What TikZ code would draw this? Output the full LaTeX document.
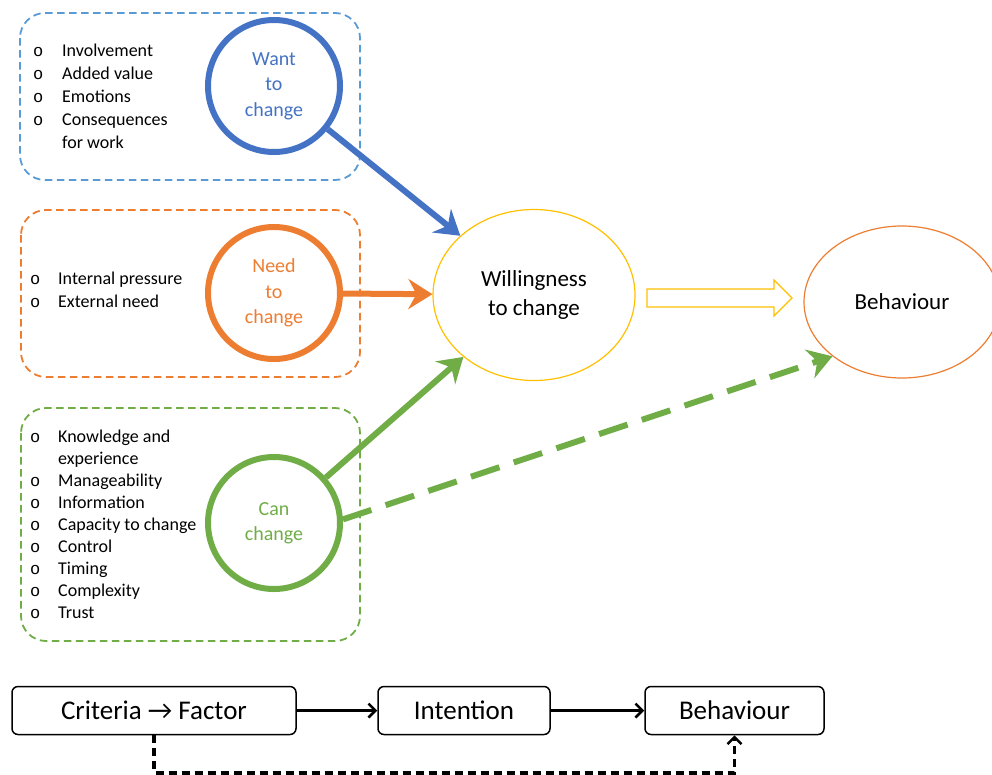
\documentclass[tikz,border=0pt]{standalone}
\usepackage{fontspec}
\setmainfont{Carlito}
\newfontfamily\bulletfont{Liberation Mono}
\usetikzlibrary{arrows.meta,shapes.geometric,calc}

\definecolor{wantblue}{HTML}{4472C4}
\definecolor{wantbox}{HTML}{5B9BD5}
\definecolor{needorange}{HTML}{ED7D31}
\definecolor{cangreen}{HTML}{70AD47}
\definecolor{willyellow}{HTML}{FFC000}

% hollow list bullet
\newcommand{\bul}{{\fontsize{17}{17}\bulletfont o}}

\tikzset{
  groupbox/.style={line width=1.8pt, dash pattern=on 7.5pt off 4.5pt, rounded corners=25pt},
  factor/.style={circle, draw, line width=6pt, minimum size=132pt, inner sep=0pt,
    align=center, font=\fontsize{20}{25.5}\selectfont},
  bigarrow/.style={line width=6pt, -{Stealth[length=24pt, width=30pt, inset=8pt]}},
  stage/.style={ellipse, draw, line width=1.2pt, inner sep=0pt, align=center,
    font=\fontsize{23}{29}\selectfont},
  itemlist/.style={anchor=north west, inner sep=0pt, align=left},
  flowbox/.style={draw, rounded corners=6pt, line width=1.5pt, minimum height=48pt,
    inner sep=0pt, font=\fontsize{27}{30}\selectfont},
  flowarrow/.style={line width=2.5pt, -{Straight Barb[length=7pt, width=14pt, line width=2.5pt]}}
}

\begin{document}
\begin{tikzpicture}[x=1pt, y=-1pt]
\useasboundingbox (0,0) rectangle (992,774);

% dashed group frames
\draw[groupbox, wantbox]    (20,13)  rectangle (360,180);
\draw[groupbox, needorange] (21,210) rectangle (360,377);
\draw[groupbox, cangreen]   (21,408) rectangle (360,641);

% criteria lists
\node[itemlist, font=\fontsize{18}{23}\selectfont] (wantlist) at (33,40) {%
  \begin{tabular}{@{}p{29pt}@{}l@{}}
  \bul & Involvement\\
  \bul & Added value\\
  \bul & Emotions\\
  \bul & Consequences\\
       & for work
  \end{tabular}};
\node[itemlist, font=\fontsize{18}{23}\selectfont] (needlist) at (30,268) {%
  \begin{tabular}{@{}p{28pt}@{}l@{}}
  \bul & Internal pressure\\
  \bul & External need
  \end{tabular}};
\node[itemlist, font=\fontsize{18}{22.1}\selectfont] (canlist) at (30,426.5) {%
  \begin{tabular}{@{}p{28pt}@{}l@{}}
  \bul & Knowledge and\\
       & experience\\
  \bul & Manageability\\
  \bul & Information\\
  \bul & Capacity to change\\
  \bul & Control\\
  \bul & Timing\\
  \bul & Complexity\\
  \bul & Trust
  \end{tabular}};

% factor circles
\node[factor, wantblue, text=wantblue]     (want) at (274,86)  {Want\\to\\change};
\node[factor, needorange, text=needorange] (need) at (274,293) {Need\\to\\change};
\node[factor, cangreen, text=cangreen]     (can)  at (274,523) {Can\\change};

% outcome ellipses
\node[stage, willyellow, text=black, minimum width=202pt, minimum height=171pt]
  (will) at (534,295) {Willingness\\to change};
\node[stage, needorange, text=black, minimum width=196pt, minimum height=152pt]
  (beh) at (902,302) {Behaviour};

% influence arrows
\draw[bigarrow, wantblue]   (want) -- (will);
\draw[bigarrow, needorange] (need) -- (will);
\draw[bigarrow, cangreen]   (can)  -- (will);
\draw[bigarrow, cangreen, dash pattern=on 30pt off 15pt] (can.3) -- (beh.218);

% hollow block arrow from willingness to behaviour
\draw[willyellow, line width=1.2pt, line join=miter]
  (647,289) -- (774,289) -- (774,280) -- (792,298) -- (774,316) -- (774,307) -- (647,307) -- cycle;

% simplified chain
\node[flowbox, minimum width=284pt] (crit) at (154,710.5) {Criteria \symbol{"2192} Factor};
\node[flowbox, minimum width=172pt] (intn) at (464,710.5) {Intention};
\node[flowbox, minimum width=179pt] (behb) at (734.5,710.5) {Behaviour};
\draw[flowarrow] (crit) -- (intn);
\draw[flowarrow] (intn) -- (behb);
\draw[flowarrow, line width=3.5pt, dash pattern=on 8pt off 5pt] (crit.south) -- ++(0,37.5) -| (behb.south);
\end{tikzpicture}
\end{document}
